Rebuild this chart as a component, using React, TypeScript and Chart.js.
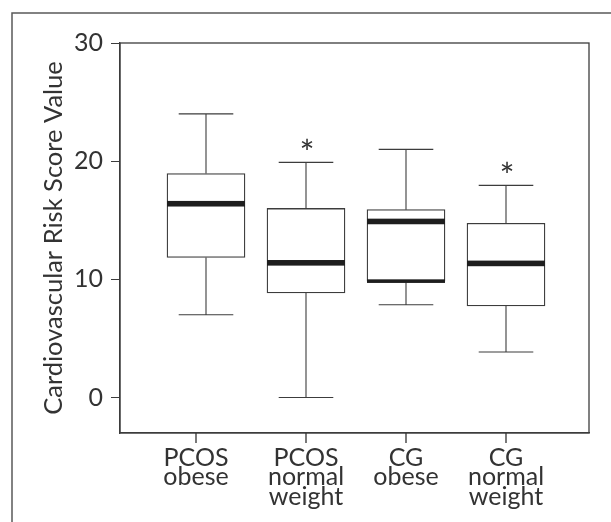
import React, { useEffect, useRef } from 'react';
import { Chart, registerables } from 'chart.js';

Chart.register(...registerables);

// ---- data ----
const categories: string[][] = [
  ['PCOS', 'obese'],
  ['PCOS', 'normal', 'weight'],
  ['CG', 'obese'],
  ['CG', 'normal', 'weight'],
];
const whiskerLow = [7.0, 0.0, 7.85, 3.85];
const q1 = [11.85, 8.85, 9.85, 7.75];
const median = [16.4, 11.4, 14.9, 11.35];
const q3 = [18.95, 16.0, 15.9, 14.75];
const whiskerHigh = [24.0, 19.9, 21.0, 17.95];
const significant = [false, true, false, true];
const q1Emphasis = [false, false, true, false];
const yTickValues = [0, 10, 20, 30];
const xTickValues = [0.9, 2, 3, 4];
const yTitle = 'Cardiovascular Risk Score Value';

const FONT = 'Lato, "Open Sans", sans-serif';
const TEXT = '#333';
const LINE = '#3c3c3c';

const boxPlugin = {
  id: 'boxDetails',
  beforeDraw(chart: any) {
    const { ctx } = chart;
    ctx.save();
    ctx.strokeStyle = '#5a5a5a';
    ctx.lineWidth = 1.5;
    ctx.beginPath();
    ctx.moveTo(12, chart.height);
    ctx.lineTo(12, 13);
    ctx.lineTo(chart.width, 13);
    ctx.stroke();
    ctx.restore();
  },
  afterDraw(chart: any) {
    const { ctx, chartArea } = chart;
    const x = chart.scales.x;
    ctx.save();
    ctx.strokeStyle = '#333';
    ctx.lineWidth = 1.3;
    ctx.beginPath();
    xTickValues.forEach((v) => {
      const px = x.getPixelForValue(v);
      ctx.moveTo(px, chartArea.bottom);
      ctx.lineTo(px, chartArea.bottom + 10);
    });
    ctx.stroke();
    ctx.restore();
  },
  afterDatasetsDraw(chart: any) {
    const { ctx, chartArea } = chart;
    const y = chart.scales.y;
    const meta = chart.getDatasetMeta(0);
    ctx.save();
    // plot frame
    ctx.strokeStyle = LINE;
    ctx.lineWidth = 1.3;
    ctx.strokeRect(chartArea.left, chartArea.top, chartArea.right - chartArea.left, chartArea.bottom - chartArea.top);

    categories.forEach((_, i) => {
      const el = meta.data[i];
      const cx = el.x;
      const half = el.width / 2;
      const capHalf = half * 0.7;
      const yLow = y.getPixelForValue(whiskerLow[i]);
      const yQ1 = y.getPixelForValue(q1[i]);
      const yMed = y.getPixelForValue(median[i]);
      const yQ3 = y.getPixelForValue(q3[i]);
      const yHigh = y.getPixelForValue(whiskerHigh[i]);

      ctx.strokeStyle = LINE;
      ctx.lineWidth = 1.1;
      ctx.beginPath();
      ctx.moveTo(cx, yQ3);
      ctx.lineTo(cx, yHigh);
      ctx.moveTo(cx - capHalf, yHigh);
      ctx.lineTo(cx + capHalf, yHigh);
      ctx.moveTo(cx, yQ1);
      ctx.lineTo(cx, yLow);
      ctx.moveTo(cx - capHalf, yLow);
      ctx.lineTo(cx + capHalf, yLow);
      ctx.stroke();

      ctx.fillStyle = '#1e1e1e';
      ctx.fillRect(cx - half, yMed - 2.8, half * 2, 5.6);
      if (q1Emphasis[i]) {
        ctx.fillRect(cx - half, yQ1 - 1.8, half * 2, 3.6);
      }
      if (significant[i]) {
        ctx.fillStyle = TEXT;
        ctx.textAlign = 'center';
        ctx.textBaseline = 'alphabetic';
        ctx.font = `100px ${FONT}`;
        const m0 = ctx.measureText('*');
        const w0 = (m0.actualBoundingBoxLeft || 0) + (m0.actualBoundingBoxRight || 0) || 30;
        const size = Math.max(20, Math.min(60, (100 * 11) / w0));
        ctx.font = `${size}px ${FONT}`;
        const m = ctx.measureText('*');
        const centerY = yHigh - 18.5;
        const base = centerY + (m.actualBoundingBoxAscent - m.actualBoundingBoxDescent) / 2;
        ctx.fillText('*', cx + 1, base);
      }
    });
    ctx.restore();
  },
};

export default function App() {
  const ref = useRef<HTMLCanvasElement | null>(null);

  useEffect(() => {
    if (!ref.current) return;
    const chart = new Chart(ref.current, {
      type: 'bar',
      data: {
        datasets: [
          {
            data: categories.map((_, i) => ({ x: i + 1, y: [q1[i], q3[i]] })) as any,
            backgroundColor: '#ffffff',
            borderColor: LINE,
            borderWidth: 1.3,
            borderSkipped: false,
            barThickness: 78,
          },
        ],
      },
      options: {
        responsive: false,
        animation: false,
        devicePixelRatio: 1,
        layout: { padding: { left: 0, top: 43, right: 22, bottom: 0 } },
        plugins: { legend: { display: false }, tooltip: { enabled: false } },
        scales: {
          x: {
            type: 'linear',
            min: 0.14,
            max: 4.83,
            offset: false,
            afterBuildTicks: (s: any) => {
              s.ticks = xTickValues.map((v) => ({ value: v }));
            },
            afterFit: (s: any) => {
              s.height = 89;
            },
            grid: { offset: false, display: true, drawOnChartArea: false, drawTicks: false, color: LINE, lineWidth: 1 },
            border: { display: true, color: LINE, width: 1.3 },
            ticks: {
              autoSkip: false,
              maxRotation: 0,
              minRotation: 0,
              padding: 15,
              color: TEXT,
              font: { family: FONT, size: 25, lineHeight: '19.6px' },
              callback: (_v: any, idx: number) => categories[idx],
            },
          },
          y: {
            type: 'linear',
            min: -3,
            max: 30,
            afterBuildTicks: (s: any) => {
              s.ticks = yTickValues.map((v) => ({ value: v }));
            },
            afterFit: (s: any) => {
              s.width = 120;
            },
            grid: { drawOnChartArea: false, drawTicks: true, tickLength: 9, color: LINE, lineWidth: 1 },
            border: { display: true, color: LINE, width: 1.3 },
            ticks: {
              padding: 8,
              color: TEXT,
              font: { family: FONT, size: 25 },
            },
            title: {
              display: true,
              text: yTitle,
              color: TEXT,
              font: { family: FONT, size: 25.5 },
              padding: { top: 38, bottom: 0 },
            },
          },
        },
      },
      plugins: [boxPlugin],
    } as any);
    return () => chart.destroy();
  }, []);

  return (
    <div style={{ position: 'fixed', left: 0, top: 0, width: 611, height: 522, background: '#fff' }}>
      <canvas ref={ref} width={611} height={522} style={{ display: 'block' }} />
    </div>
  );
}
